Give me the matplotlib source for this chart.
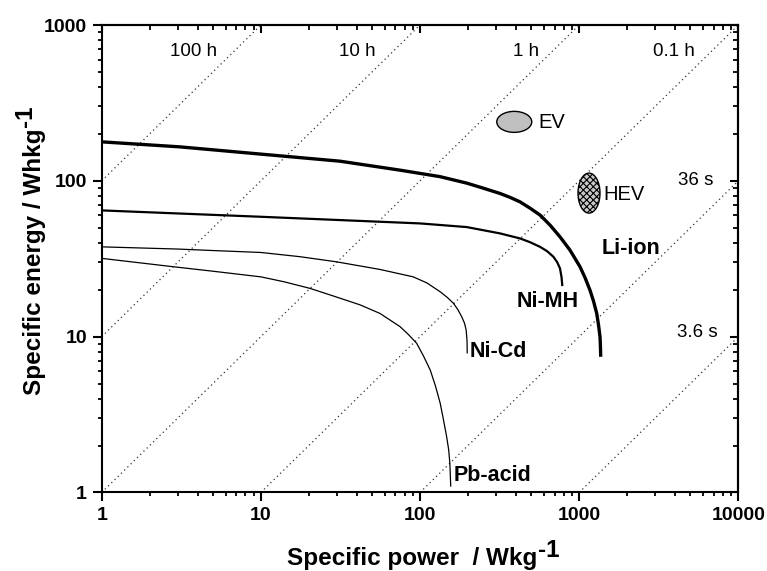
import matplotlib
matplotlib.use('Agg')
import matplotlib.pyplot as plt
from matplotlib.patches import Ellipse
from matplotlib import transforms
from matplotlib.ticker import LogLocator, NullFormatter

plt.rcParams['font.family'] = ['Liberation Sans', 'DejaVu Sans']
plt.rcParams['hatch.linewidth'] = 0.8

# ---------------- data ----------------
li_P = [1, 3.1, 10, 31.4, 74.9, 133.5, 196.5, 249, 318, 368, 425, 491, 568, 656,
        758, 876, 1012, 1089, 1169, 1231, 1289, 1323, 1352, 1360, 1366]
li_E = [177.9, 165.2, 148.4, 133.7, 117.1, 106.4, 96.7, 89.8, 83.0, 78.3, 73.3, 66.8,
        60.3, 52.0, 43.7, 35.9, 28.1, 23.9, 19.9, 16.9, 14.1, 11.9, 9.99, 8.7, 7.43]

nimh_P = [1, 10, 100, 196.5, 318, 425, 491, 568, 628, 688, 727, 758, 775, 784]
nimh_E = [64.6, 58.8, 53.3, 50.5, 46.0, 42.7, 40.4, 37.7, 35.4, 32.6, 30.1, 27.4, 24.1, 21.1]

nicd_P = [1, 3, 5, 10, 17.6, 30, 56, 90.7, 110.7, 134, 148, 162, 173, 183, 190.4, 195,
          197.5, 198]
nicd_E = [37.7, 36.5, 35.7, 34.7, 32.6, 30.2, 27.0, 24.2, 22.1, 19.4, 17.9, 16.4, 14.9,
          13.4, 12.2, 11.0, 9.37, 7.8]

pb_P = [1, 2.82, 5, 10, 14, 20.4, 29.2, 42, 56, 74.9, 84.7, 95.3, 105.2, 116, 125.1,
        134, 140.5, 147, 151.5, 154, 156]
pb_E = [31.8, 28.1, 26.3, 24.2, 22.5, 20.4, 18.1, 16.0, 14.1, 11.6, 10.3, 9.06, 7.51,
        6.1, 4.82, 3.73, 2.92, 2.28, 1.87, 1.54, 1.09]

curve_names = ['Li-ion', 'Ni-MH', 'Ni-Cd', 'Pb-acid']
curve_label_P = [1393, 405, 206, 162]
curve_label_E = [37.0, 16.7, 8.0, 1.28]

# constant discharge-time lines (hours) and their labels
durations_h = [100, 10, 1, 0.1, 0.01, 0.001]
duration_labels = ['100 h', '10 h', '1 h', '0.1 h', '36 s', '3.6 s']
duration_label_P = [3.80, 40.5, 462, 3945, 5400, 5540]
duration_label_E = [672, 672, 672, 672, 101, 10.7]

# application targets
target_names = ['EV', 'HEV']
target_P = [391, 1153]
target_E = [239, 83.4]
target_label_P = [554, 1413]
target_label_E = [238, 82]

xticks = [1, 10, 100, 1000, 10000]
xtick_labels = ['1', '10', '100', '1000', '10000']
yticks = [1, 10, 100, 1000]
ytick_labels = ['1', '10', '100', '1000']

# ---------------- figure ----------------
fig = plt.figure(figsize=(7.67, 5.71), dpi=100)
ax = fig.add_axes([0.1326, 0.1375, 0.8300, 0.8187])
ax.set_xscale('log')
ax.set_yscale('log')
ax.set_xlim(1, 10000)
ax.set_ylim(1, 1000)

# dotted constant-time lines
for t in durations_h:
    ax.axline((1, t), (10, 10 * t), color='#333333', lw=0.9,
              linestyle=(0, (1, 2.6)), zorder=1)

for lab, px, py in zip(duration_labels, duration_label_P, duration_label_E):
    ax.text(px, py, lab, ha='center', va='center', fontsize=13.5, zorder=3)

# curves
ax.plot(li_P, li_E, color='black', lw=2.4, solid_capstyle='butt',
        solid_joinstyle='round', zorder=4)
ax.plot(nimh_P, nimh_E, color='black', lw=1.6, solid_capstyle='butt',
        solid_joinstyle='round', zorder=4)
ax.plot(nicd_P, nicd_E, color='black', lw=0.9, solid_capstyle='butt',
        solid_joinstyle='round', zorder=4)
ax.plot(pb_P, pb_E, color='black', lw=0.9, solid_capstyle='butt',
        solid_joinstyle='round', zorder=4)

for lab, px, py in zip(curve_names, curve_label_P, curve_label_E):
    ax.text(px, py, lab, ha='left', va='center', fontsize=15.5,
            fontweight='bold', zorder=5)

# target ellipses (sizes in inches on screen)
ell_sizes = [(0.35, 0.21), (0.22, 0.40)]
ell_face = ['#c0c0c0', '#c8c8c8']
ell_hatch = [None, 'xxxxx']
for (w, h), fc, hat, px, py in zip(ell_sizes, ell_face, ell_hatch, target_P, target_E):
    trans = fig.dpi_scale_trans + transforms.ScaledTranslation(px, py, ax.transData)
    e = Ellipse((0, 0), w, h, transform=trans, facecolor=fc, edgecolor='black',
                lw=1.0, hatch=hat, zorder=5)
    ax.add_patch(e)
for lab, px, py in zip(target_names, target_label_P, target_label_E):
    ax.text(px, py, lab, ha='left', va='center', fontsize=14.5, zorder=5)

# axes styling
for s in ax.spines.values():
    s.set_linewidth(1.5)
ax.set_xticks(xticks, labels=xtick_labels)
ax.set_yticks(yticks, labels=ytick_labels)
ax.xaxis.set_minor_locator(LogLocator(base=10, subs=range(2, 10), numticks=20))
ax.yaxis.set_minor_locator(LogLocator(base=10, subs=range(2, 10), numticks=20))
ax.xaxis.set_minor_formatter(NullFormatter())
ax.yaxis.set_minor_formatter(NullFormatter())
ax.tick_params(which='major', direction='out', length=6.5, width=1.5,
               labelsize=14, pad=4)
ax.tick_params(which='minor', direction='out', length=3.2, width=1.3)
for lbl in ax.get_xticklabels() + ax.get_yticklabels():
    lbl.set_fontweight('bold')

secx = ax.secondary_xaxis('top')
secx.set_xticks(xticks)
secx.xaxis.set_minor_locator(LogLocator(base=10, subs=range(2, 10), numticks=20))
secx.tick_params(which='major', direction='in', length=6, width=1.5, labeltop=False)
secx.tick_params(which='minor', direction='in', length=3.5, width=1.3)
secx.xaxis.set_major_formatter(NullFormatter())
secx.xaxis.set_minor_formatter(NullFormatter())
secx.spines['top'].set_linewidth(1.5)

secy = ax.secondary_yaxis('right')
secy.set_yticks(yticks)
secy.yaxis.set_minor_locator(LogLocator(base=10, subs=range(2, 10), numticks=20))
secy.tick_params(which='major', direction='in', length=6, width=1.5, labelright=False)
secy.tick_params(which='minor', direction='in', length=3.5, width=1.3)
secy.yaxis.set_major_formatter(NullFormatter())
secy.yaxis.set_minor_formatter(NullFormatter())
secy.spines['right'].set_linewidth(1.5)

# axis labels with full-size raised superscripts
xl = fig.text(411.7 / 767, 5.5 / 571, 'Specific power  / Wkg', ha='center',
              va='baseline', fontsize=17.5, fontweight='bold')
ax.annotate('-1', xy=(1, 0), xycoords=xl, xytext=(1, 10), textcoords='offset points',
            ha='left', va='baseline', fontsize=17.5, fontweight='bold',
            annotation_clip=False)

yl = fig.text(35 / 767, (571 - 395) / 571, 'Specific energy / Whkg', ha='center',
              va='bottom', rotation=90, fontsize=17.5, fontweight='bold')
ax.annotate('-1', xy=(0, 1), xycoords=yl, xytext=(6.3, 1), textcoords='offset points',
            ha='left', va='baseline', rotation=90, rotation_mode='anchor',
            fontsize=17.5, fontweight='bold', annotation_clip=False)

fig.savefig('out.png', dpi=100)
